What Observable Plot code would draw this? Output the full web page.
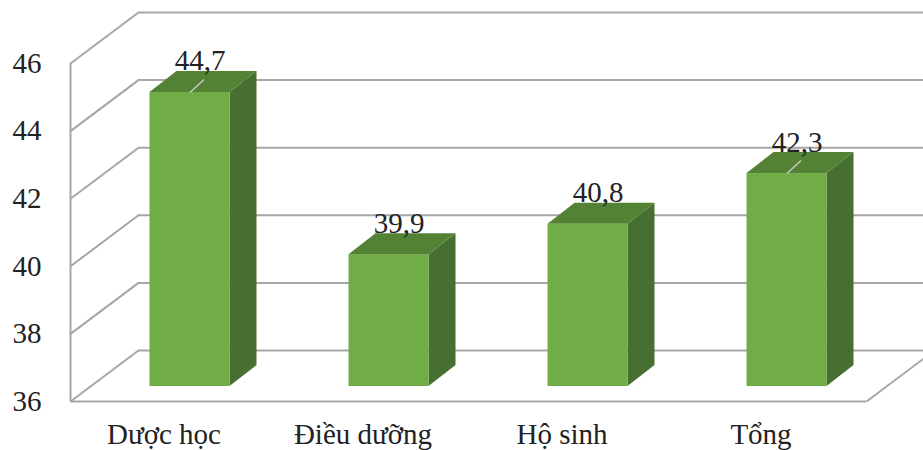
<!DOCTYPE html>
<html><head><meta charset="utf-8">
<script src="https://cdn.jsdelivr.net/npm/d3@7"></script>
<script src="https://cdn.jsdelivr.net/npm/@observablehq/plot@0.6"></script>
<style>
body{margin:0;background:#fff;overflow:hidden}
#chart svg text{font-family:'Liberation Serif','Times New Roman',serif !important;}
</style>
</head><body><div id="chart"></div>
<script>
const categories = ["Dược học", "Điều dưỡng", "Hộ sinh", "Tổng"];
const values = [44.7, 39.9, 40.8, 42.3];
const valueLabels = ["44,7", "39,9", "40,8", "42,3"];
const yTicks = [36, 38, 40, 42, 44, 46];
const leaderCats = ["Dược học", "Tổng"];

const W = 923, H = 450, mL = 70, mR = 57, mT = 63, mB = 49;
const yMin = 36, yMax = 46;
const pxX = (W - mL - mR) / categories.length;
const pxY = (H - mT - mB) / (yMax - yMin);
// depth geometry (pixels)
const wallDX = 68, wallDY = 51;
const faceDX = 20, faceDY = 15;
const barDX = 27, barDY = 21;
const barHalf = 40;
// converted to data units
const wx = wallDX / pxX, wy = wallDY / pxY;
const bx = barDX / pxX, by = barDY / pxY;
const half = barHalf / pxX;

const bars = categories.map((c, i) => ({c, cx: i + 0.5, v: values[i], label: valueLabels[i], L: i + 0.5 - half, R: i + 0.5 + half}));
const topRows = bars.flatMap((d, i) => [
  {z: i, y: d.v, x1: d.L, x2: d.R},
  {z: i, y: d.v + by, x1: d.L + bx, x2: d.R + bx}
]);
const sideRows = bars.flatMap((d, i) => [
  {z: i, x: d.R, y1: yMin, y2: d.v},
  {z: i, x: d.R + bx, y1: yMin + by, y2: d.v + by}
]);
const n = categories.length;
const grid = "#a6a6a6";
const gw = 2;
const font = "'Liberation Serif', 'Times New Roman', serif";
const fs = 29;

const chart = Plot.plot({
  width: W, height: H,
  marginLeft: mL, marginRight: mR, marginTop: mT, marginBottom: mB,
  x: {domain: [0, n]},
  y: {domain: [yMin, yMax]},
  style: {fontFamily: font, fontSize: fs + "px", color: "#222", background: "#fff", overflow: "visible"},
  marks: [
    // back wall gridlines
    Plot.ruleY(yTicks, {x1: wx, x2: n + wx, y: d => d + wy, stroke: grid, strokeWidth: gw}),
    // left wall diagonals
    Plot.link(yTicks, {x1: 0, y1: d => d, x2: wx, y2: d => d + wy, stroke: grid, strokeWidth: gw}),
    // left front vertical
    Plot.ruleX([0], {y1: yMin, y2: yMax, stroke: grid, strokeWidth: gw}),
    // floor front edge and right edge
    Plot.ruleY([yMin], {x1: 0, x2: n, stroke: grid, strokeWidth: gw}),
    Plot.link([yMin], {x1: n, y1: d => d, x2: n + wx, y2: d => d + wy, stroke: grid, strokeWidth: gw}),
    // bars: side, front, top
    Plot.areaY(sideRows, {x: "x", y1: "y1", y2: "y2", z: "z", fill: "#466f31", dx: faceDX, dy: -faceDY}),
    Plot.rect(bars, {x1: "L", x2: "R", y1: yMin, y2: "v", fill: "#70ad47", dx: faceDX, dy: -faceDY}),
    Plot.areaX(topRows, {y: "y", x1: "x1", x2: "x2", z: "z", fill: "#548235", dx: faceDX, dy: -faceDY}),
    // leader lines
    Plot.link(bars.filter(d => leaderCats.includes(d.c)), {x1: "cx", y1: "v", x2: d => d.cx + 14 / pxX, y2: d => d.v + 13 / pxY, stroke: "#c8c8c8", strokeWidth: 1.5, dx: faceDX, dy: -faceDY}),
    // value labels
    Plot.text(bars, {x: "cx", y: "v", text: "label", dx: 30, dy: -37, lineAnchor: "bottom", fill: "#222", fontSize: fs}),
    // axes
    Plot.axisY(yTicks, {tickSize: 0, tickPadding: 29, tickFormat: d => String(d), fill: "#222", fontSize: fs}),
    Plot.axisX(bars.map(d => d.cx), {tickSize: 0, tickPadding: 22, dx: -6, tickFormat: d => categories[Math.floor(d)], fill: "#222", fontSize: fs})
  ]
});
document.getElementById("chart").append(chart);
</script>
</body></html>
